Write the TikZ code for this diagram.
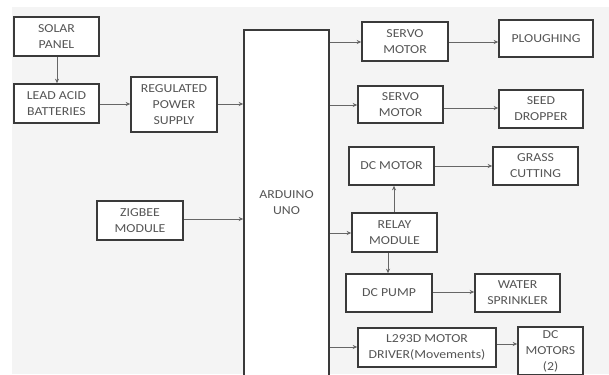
\documentclass[tikz,border=0pt]{standalone}
\usepackage{fontspec}
\setmainfont{Carlito}[FakeStretch=1.13]
\usetikzlibrary{arrows.meta}
\definecolor{bg}{HTML}{F4F4F4}
\definecolor{bord}{HTML}{3A3A3A}
\definecolor{txt}{HTML}{555555}
\definecolor{ln}{HTML}{666666}
\tikzset{
  blk/.style={draw=bord, line width=1.6pt, fill=white, text=txt, align=center,
    inner sep=0pt, font=\fontsize{12.2}{16}\selectfont},
  conn/.style={draw=ln, line width=0.8pt, -{Stealth[length=4.5pt,width=4pt]}},
}
\newcommand{\blkat}[6]{% name, x1, y1, x2, y2, text
  \pgfmathsetmacro{\cx}{(#2+#4)/2}\pgfmathsetmacro{\cy}{(#3+#5)/2}%
  \pgfmathsetmacro{\bw}{#4-#2}\pgfmathsetmacro{\bh}{#5-#3}%
  \node[blk, minimum width=\bw pt, minimum height=\bh pt] (#1) at (\cx,\cy) {#6};}
\begin{document}
\begin{tikzpicture}[x=1pt,y=-1pt]
\useasboundingbox (0,0) rectangle (609,374);
\clip (0,0) rectangle (609,374);
\fill[white] (0,0) rectangle (609,374);
\fill[bg] (12,7) rectangle (609,374);
\blkat{solar}{14}{17}{99}{56}{SOLAR\\PANEL}
\blkat{lead}{14}{84}{99}{123}{LEAD ACID\\BATTERIES}
\blkat{rps}{131}{77}{217}{132}{REGULATED\\POWER\\SUPPLY}
\blkat{zig}{97}{201}{183}{240}{ZIGBEE\\MODULE}
\blkat{ard}{244}{30}{329}{376}{ARDUINO\\UNO}
\blkat{servoa}{362}{22}{448}{61}{SERVO\\MOTOR}
\blkat{plough}{499}{20}{593}{57}{PLOUGHING}
\blkat{servob}{358}{86}{443}{123}{SERVO\\MOTOR}
\blkat{seed}{499}{90}{583}{128}{SEED\\DROPPER}
\blkat{dcm}{349}{147}{434}{185}{DC MOTOR}
\blkat{grass}{493}{147}{578}{185}{GRASS\\CUTTING}
\blkat{relay}{352}{213}{437}{252}{RELAY\\MODULE}
\blkat{pump}{346}{274}{432}{312}{DC PUMP}
\blkat{water}{475}{274}{560}{312}{WATER\\SPRINKLER}
\blkat{drv}{358}{328}{496}{367}{L293D MOTOR\\DRIVER(Movements)}
\blkat{dcms}{518}{327}{583}{375}{DC\\MOTORS\\(2)}
\draw[conn] (solar.south -| 57,0) -- (lead.north -| 57,0);
\draw[conn] (lead.east |- 0,104) -- (rps.west |- 0,104);
\draw[conn] (rps.east |- 0,104) -- (ard.west |- 0,104);
\draw[conn] (zig.east |- 0,219) -- (ard.west |- 0,219);
\draw[conn] (ard.east |- 0,42) -- (servoa.west |- 0,42);
\draw[conn] (servoa.east |- 0,42) -- (plough.west |- 0,42);
\draw[conn] (ard.east |- 0,105) -- (servob.west |- 0,105);
\draw[conn] (servob.east |- 0,108) -- (seed.west |- 0,108);
\draw[conn] (dcm.east |- 0,166) -- (grass.west |- 0,166);
\draw[conn] (ard.east |- 0,233) -- (relay.west |- 0,233);
\draw[conn] (relay.north -| 394,0) -- (dcm.south -| 394,0);
\draw[conn] (relay.south -| 388,0) -- (pump.north -| 388,0);
\draw[conn] (pump.east |- 0,292) -- (water.west |- 0,292);
\draw[conn] (ard.east |- 0,347) -- (drv.west |- 0,347);
\draw[conn] (drv.east |- 0,344) -- (dcms.west |- 0,344);
\end{tikzpicture}
\end{document}
